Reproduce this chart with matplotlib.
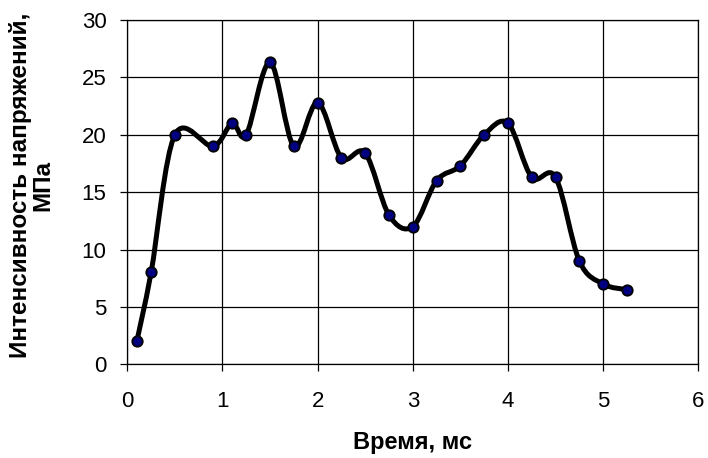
import numpy as np
import matplotlib
matplotlib.use('Agg')
import matplotlib.pyplot as plt
from matplotlib.path import Path
from matplotlib.patches import PathPatch

plt.rcParams['font.family'] = ['Liberation Sans', 'DejaVu Sans']

# Данные
t_ms = [0.1, 0.25, 0.5, 0.9, 1.1, 1.25, 1.5, 1.75, 2.0, 2.25, 2.5, 2.75,
        3.0, 3.25, 3.5, 3.75, 4.0, 4.25, 4.5, 4.75, 5.0, 5.25]
sigma = [2.0, 8.0, 20.0, 19.0, 21.0, 20.0, 26.3, 19.0, 22.8, 18.0, 18.4, 13.0,
         12.0, 16.0, 17.3, 20.0, 21.0, 16.3, 16.3, 9.0, 7.0, 6.5]
xticks = [0, 1, 2, 3, 4, 5, 6]
yticks = [0, 5, 10, 15, 20, 25, 30]


def smooth_path(x, y):
    # сглаженная линия как в Excel (кривые Безье, Catmull-Rom)
    p = np.column_stack([x, y])
    n = len(p)
    verts = [p[0]]
    codes = [Path.MOVETO]
    for i in range(n - 1):
        p0 = p[i - 1] if i > 0 else p[i]
        p3 = p[i + 2] if i + 2 < n else p[i + 1]
        c1 = p[i] + (p[i + 1] - p0) / 6.0
        c2 = p[i + 1] - (p3 - p[i]) / 6.0
        verts += [c1, c2, p[i + 1]]
        codes += [Path.CURVE4] * 3
    return Path(verts, codes)


fig = plt.figure(figsize=(7.08, 4.58), dpi=100)
ax = fig.add_axes([0.1798, 0.2046, 0.8065, 0.7517])

ax.add_patch(PathPatch(smooth_path(t_ms, sigma), facecolor='none',
                       edgecolor='black', lw=3.6, zorder=3))
ax.plot(t_ms, sigma, 'o', color='#000080', mec='black', mew=1.3, ms=7.5, zorder=4)

ax.set_xlim(0, 6)
ax.set_ylim(0, 30)
ax.set_xticks(xticks)
ax.set_yticks(yticks)
ax.grid(True, color='black', lw=0.9)
ax.set_axisbelow(True)
for s in ax.spines.values():
    s.set_color('black')
    s.set_linewidth(0.9)
ax.tick_params(direction='out', length=5, width=0.9, labelsize=16)
ax.tick_params(axis='y', pad=10)
ax.tick_params(axis='x', pad=14)

ax.set_xlabel('Время, мс', fontsize=17, fontweight='bold')
ax.xaxis.set_label_coords(0.5, -0.195)
ax.set_ylabel('Интенсивность напряжений,\nМПа', fontsize=17.5,
              fontweight='bold', linespacing=1.0)
ax.yaxis.set_label_coords(-0.127, 0.52)

fig.savefig('out.png', dpi=100)
